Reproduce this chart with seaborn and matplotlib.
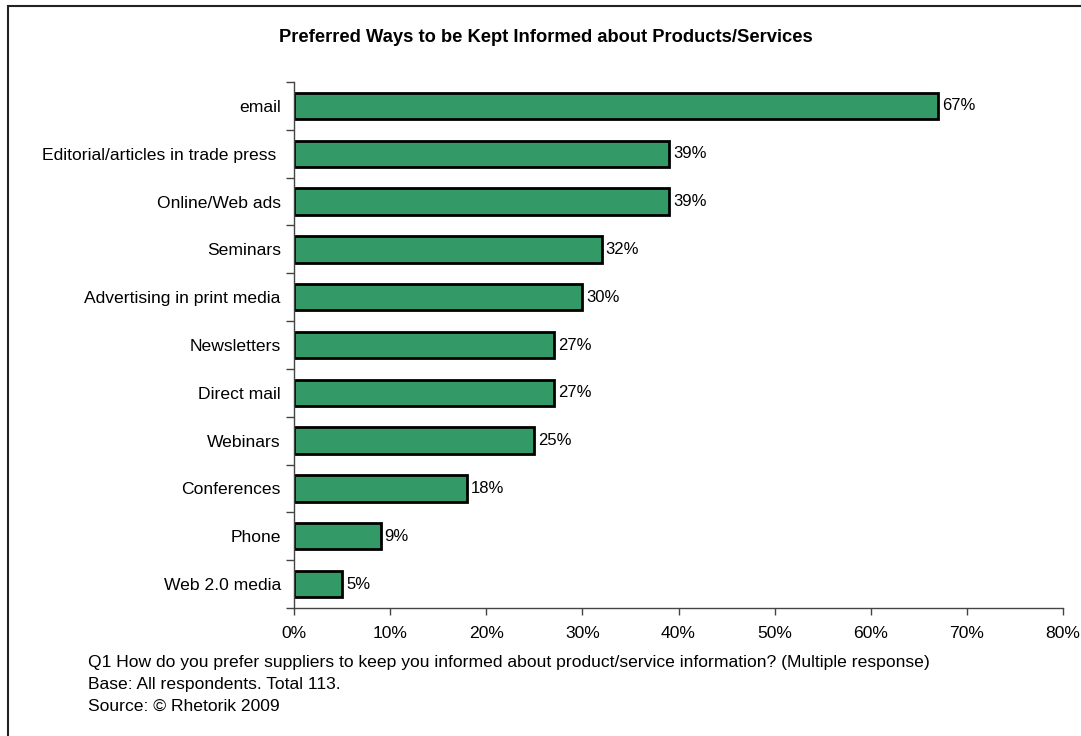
import matplotlib
matplotlib.use("Agg")
import matplotlib.pyplot as plt
from matplotlib.patches import Rectangle
from matplotlib.ticker import FixedLocator, PercentFormatter
import seaborn as sns
import pandas as pd

categories = [
    "email",
    "Editorial/articles in trade press ",
    "Online/Web ads",
    "Seminars",
    "Advertising in print media",
    "Newsletters",
    "Direct mail",
    "Webinars",
    "Conferences",
    "Phone",
    "Web 2.0 media",
]
values = [67, 39, 39, 32, 30, 27, 27, 25, 18, 9, 5]
x_ticks = [0, 10, 20, 30, 40, 50, 60, 70, 80]

title = "Preferred Ways to be Kept Informed about Products/Services"
notes = [
    "Q1 How do you prefer suppliers to keep you informed about product/service information? (Multiple response)",
    "Base: All respondents. Total 113.",
    "Source: \u00a9 Rhetorik 2009",
]

sns.set_theme(style="white")
plt.rcParams["font.family"] = ["Liberation Sans", "DejaVu Sans"]
plt.rcParams["text.color"] = "black"
plt.rcParams["xtick.color"] = "black"
plt.rcParams["ytick.color"] = "black"

df = pd.DataFrame({"channel": categories, "share": values})

fig = plt.figure(figsize=(10.81, 7.36), dpi=100)
ax = fig.add_axes([294 / 1081, 1 - 608 / 736, (1063 - 294) / 1081, (608 - 82) / 736])

sns.barplot(data=df, x="share", y="channel", orient="h", color="#339966",
            saturation=1, edgecolor="black", linewidth=2, width=0.55, ax=ax)

ax.set_xlim(0, 80)
ax.set_ylim(len(categories) - 0.5, -0.5)
ax.set_xticks(x_ticks)
ax.xaxis.set_major_formatter(PercentFormatter(decimals=0))
ax.set_xlabel("")
ax.set_ylabel("")

for spine in ["top", "right"]:
    ax.spines[spine].set_visible(False)
for spine in ["left", "bottom"]:
    ax.spines[spine].set_color("#444444")
    ax.spines[spine].set_linewidth(1.0)

ax.tick_params(axis="x", direction="out", length=5, width=1, color="#444444",
               labelsize=12.6, pad=8, bottom=True)
ax.tick_params(axis="y", which="major", length=0, labelsize=12.6, pad=9.5)
ax.yaxis.set_minor_locator(FixedLocator([i - 0.5 for i in range(len(categories) + 1)]))
ax.tick_params(axis="y", which="minor", direction="out", length=6, width=1,
               color="#444444", left=True)

for container in ax.containers:
    ax.bar_label(container, labels=[f"{v}%" for v in values], padding=3,
                 fontsize=12, color="black")

fig.text(546 / 1081, 1 - 38 / 736, title, ha="center", va="center",
         fontsize=13.2, fontweight="bold")

for i, line in enumerate(notes):
    fig.text(88 / 1081, 1 - (663 + 21.5 * i) / 736, line, ha="left", va="center",
             fontsize=12.6)

fig.patches.append(Rectangle((8 / 1081, -0.05), 1.1, 1 - 6 / 736 + 0.05,
                             transform=fig.transFigure, fill=False,
                             edgecolor="#222222", linewidth=1.5))

fig.savefig("out.png", dpi=100, facecolor="white")
